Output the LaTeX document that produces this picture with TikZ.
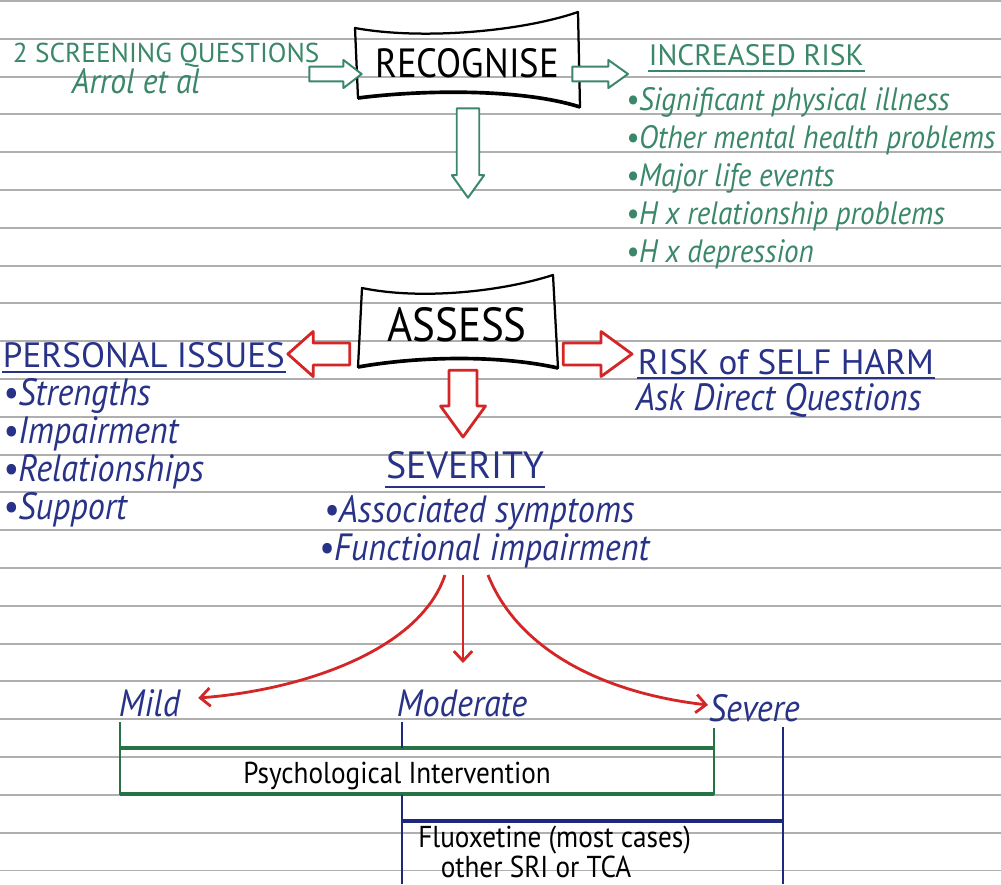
\documentclass[tikz,border=0pt]{standalone}
\usepackage{fontspec}
\setmainfont{PT Sans}[FakeStretch=0.9]
\newfontfamily\capsfont{PT Sans}
\usetikzlibrary{calc,arrows.meta}

\definecolor{greenink}{RGB}{58,135,105}
\definecolor{blueink}{RGB}{40,50,135}
\definecolor{redink}{RGB}{212,38,38}
\definecolor{barsgreen}{RGB}{40,115,70}
\definecolor{barsblue}{RGB}{30,40,125}
\definecolor{paper}{RGB}{175,175,175}

% hollow block arrow: style, shaft half width, head half width, head length, from, to
\newcommand{\blockarrow}[6]{%
  \path (#5) coordinate (ba-a) (#6) coordinate (ba-b);
  \path ($(ba-b)!#4!(ba-a)$) coordinate (ba-h);
  \draw[#1] ($(ba-a)!#2!90:(ba-b)$) -- ($(ba-h)!#2!90:(ba-b)$) --
        ($(ba-h)!#3!90:(ba-b)$) -- (ba-b) -- ($(ba-h)!#3!-90:(ba-b)$) --
        ($(ba-h)!#2!-90:(ba-b)$) -- ($(ba-a)!#2!-90:(ba-b)$) -- cycle;
}

\begin{document}
\begin{tikzpicture}[%
        x=0.025cm, y=-0.025cm,
        paperline/.style={draw=paper, line width=1.3pt},
        boxline/.style={draw=black, line width=1.6pt, line join=round},
        greenblock/.style={draw=greenink, fill=white, line width=1.4pt, line join=round},
        redblock/.style={draw=redink, fill=white, line width=2pt, line join=round},
        redline/.style={draw=redink, line width=2pt, -{Straight Barb[length=7pt, width=13pt]}},
        greencaps/.style={text=greenink, inner sep=0.5pt, font=\capsfont\fontsize{19.4}{21}\selectfont},
        greenhand/.style={text=greenink, inner sep=0.5pt, font=\fontsize{23}{25}\selectfont\itshape},
        bluecaps/.style={text=blueink, inner sep=0.5pt, font=\capsfont\fontsize{25}{27}\selectfont},
        bluehand/.style={text=blueink, inner sep=0.5pt, font=\fontsize{27}{29}\selectfont\itshape},
        boxtext/.style={inner sep=1pt, font=\fontsize{29}{31}\selectfont},
        blackhand/.style={inner sep=0pt, font=\fontsize{21.5}{17.5}\selectfont}
    ]
    \useasboundingbox (0,0) rectangle (1001,884);
    \fill[white] (0,0) rectangle (1001,884);

    % ruled paper
    \foreach \k in {0,...,23}
        \draw[paperline] (0,{1+37.8*\k}) -- (1001,{1+37.8*\k});

    % recognise
    \node[greencaps, anchor=base west] (screen) at (12,62) {2 SCREENING QUESTIONS};
    \node[greenhand, anchor=base, font=\fontsize{25}{27}\selectfont\itshape] (arrol) at (136,93) {Arrol et al};
    \node[boxtext, minimum width=5.6cm, minimum height=1.75cm] (recog) at (467,63) {RECOGNISE};
    \draw[boxline] (355,28) .. controls (420,40) and (520,32) .. (578,12) --
          (580,107) .. controls (520,88) and (420,90) .. (358,98) -- cycle;
    \draw[boxline, line width=2.6pt] (580,107) .. controls (520,88) and (420,90) .. (358,98);

    \node[greencaps, anchor=base west, font=\capsfont\fontsize{21}{23}\selectfont] (incr) at (648,65) {INCREASED RISK};
    \draw[greenink, line width=1.2pt] ([shift={(0,6)}]incr.base west) -- ([shift={(0,6)}]incr.base east);
    \foreach \txt [count=\i] in {Significant physical illness, Other mental health problems,
            Major life events, H x relationship problems, H x depression}
        \node[greenhand, anchor=base west] (risk\i) at (625,{72+38*\i}) {\textbullet\txt};

    \blockarrow{greenblock}{5.3pt}{10pt}{13pt}{[shift={(-11,12)}]screen.base east}{[shift={(7,11)}]recog.west}
    \blockarrow{greenblock}{5.3pt}{10pt}{14pt}{[shift={(-7,11)}]recog.east}{[shift={(-20,9)}]incr.base west}

    % assess
    \node[boxtext, font=\fontsize{34}{36}\selectfont, minimum width=4.9cm, minimum height=1.95cm] (assess) at (457,325) {ASSESS};
    \draw[boxline] (362,288) .. controls (420,300) and (500,292) .. (553,275) --
          (558,368) .. controls (500,355) and (420,356) .. (358,367) -- cycle;
    \draw[boxline, line width=2.6pt] (558,368) .. controls (500,355) and (420,356) .. (358,367);
    \blockarrow{greenblock}{8pt}{11.5pt}{16pt}{[shift={(1,10)}]recog.south}{[shift={(11,-88)}]assess.north}

    \node[bluecaps, anchor=base west] (personal) at (2,367) {PERSONAL ISSUES};
    \draw[blueink, line width=1.2pt] ([shift={(0,5)}]personal.base west) -- ([shift={(0,5)}]personal.base east);
    \foreach \txt [count=\i] in {Strengths, Impairment, Relationships, Support}
        \node[bluehand, anchor=base west] (issue\i) at (2,{367+38*\i}) {\textbullet\txt};

    \node[bluecaps, anchor=base west] (selfharm) at (637,374) {RISK of SELF HARM};
    \draw[blueink, line width=1.2pt] ([shift={(0,4)}]selfharm.base west) -- ([shift={(0,4)}]selfharm.base east);
    \node[bluehand, anchor=base west] (askdirect) at (635,410) {Ask Direct Questions};

    \node[bluecaps, anchor=base, font=\capsfont\fontsize{27}{29}\selectfont] (severity) at (465,478) {SEVERITY};
    \draw[blueink, line width=1.2pt] ([shift={(0,9)}]severity.base west) -- ([shift={(0,9)}]severity.base east);
    \node[bluehand, anchor=base] (assoc) at (479,522) {\textbullet Associated symptoms};
    \node[bluehand, anchor=base] (funct) at (484,560) {\textbullet Functional impairment};

    \blockarrow{redblock}{7.8pt}{16pt}{18pt}{[shift={(-9,29)}]assess.west}{[shift={(2,-13)}]personal.base east}
    \blockarrow{redblock}{7.8pt}{16pt}{22pt}{[shift={(8,29)}]assess.east}{[shift={(-5,-20)}]selfharm.base west}
    \blockarrow{redblock}{10pt}{16pt}{22pt}{[shift={(6,6)}]assess.south}{[shift={(-2,-41)}]severity.base}

    % treatment
    \node[bluehand, anchor=base west] (mild) at (118,716) {Mild};
    \node[bluehand, anchor=base] (moderate) at (462,716) {Moderate};
    \node[bluehand, anchor=base west] (severe) at (708,721) {Severe};

    \draw[redline] ([shift={(-39,15)}]funct.base) .. controls +(-25,75) and +(105,-8) .. ([shift={(17,-18)}]mild.base east);
    \draw[redline] ([shift={(-21,15)}]funct.base) -- ([shift={(1,-53)}]moderate.base);
    \draw[redline] ([shift={(4,15)}]funct.base) .. controls +(30,75) and +(-105,-12) .. ([shift={(0,-16)}]severe.base west);

    \draw[barsgreen, line width=1.5pt] (120,722) -- (120,795) (714,728) -- (714,795);
    \draw[barsgreen, line width=2.4pt] (120,748) -- (714,748) (120,794) -- (714,794);
    \draw[barsblue, line width=1.5pt] (402,722) -- (402,748) (402,795) -- (402,884) (783,727) -- (783,884);
    \draw[barsblue, line width=2.4pt] (402,821) -- (783,821);

    \node[blackhand, anchor=base west] (psych) at (243,783) {Psychological Intervention};
    \node[blackhand, anchor=north west, align=left] (fluox) at (418,826)
        {Fluoxetine (most cases)\\\hspace{16pt}other SRI or TCA};
\end{tikzpicture}
\end{document}
